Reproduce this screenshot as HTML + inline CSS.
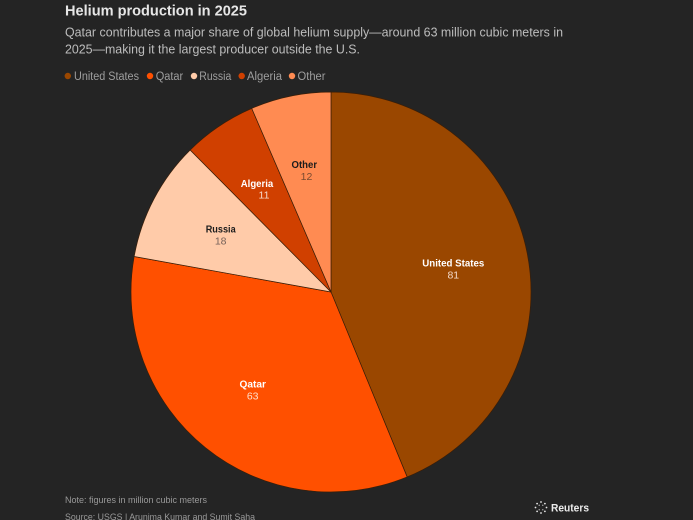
<!DOCTYPE html>
<html>
<head>
<meta charset="utf-8">
<style>
  html, body { margin: 0; padding: 0; background: #242424; }
  body { width: 693px; height: 520px; overflow: hidden; }
  svg { display: block; }
  text { font-family: "Liberation Sans", Arial, sans-serif; }
</style>
</head>
<body>
<svg width="693" height="520" viewBox="0 0 693 520" xmlns="http://www.w3.org/2000/svg">
  <rect x="0" y="0" width="693" height="520" fill="#242424"/>

  <!-- Title -->
  <text x="65" y="15.7" font-size="15" font-weight="bold" fill="#e6e6e6" textLength="182" lengthAdjust="spacingAndGlyphs">Helium production in 2025</text>
  <text x="65" y="36.7" font-size="13" fill="#bdbdbd" textLength="498" lengthAdjust="spacingAndGlyphs">Qatar contributes a major share of global helium supply—around 63 million cubic meters in</text>
  <text x="65" y="53.3" font-size="13" fill="#bdbdbd" textLength="295" lengthAdjust="spacingAndGlyphs">2025—making it the largest producer outside the U.S.</text>

  <!-- Legend -->
  <g font-size="11.5" fill="#9e9e9e">
    <circle cx="67.8" cy="76" r="3.2" fill="#9a4700"/>
    <text x="74" y="80" textLength="65" lengthAdjust="spacingAndGlyphs">United States</text>
    <circle cx="150" cy="76" r="3.2" fill="#ff5000"/>
    <text x="155.7" y="80" textLength="27.5" lengthAdjust="spacingAndGlyphs">Qatar</text>
    <circle cx="194" cy="76" r="3.2" fill="#ffcba9"/>
    <text x="199.3" y="80" textLength="32" lengthAdjust="spacingAndGlyphs">Russia</text>
    <circle cx="241.7" cy="76" r="3.2" fill="#d04000"/>
    <text x="247" y="80" textLength="35" lengthAdjust="spacingAndGlyphs">Algeria</text>
    <circle cx="292" cy="76" r="3.2" fill="#ff8b52"/>
    <text x="297.5" y="80" textLength="28" lengthAdjust="spacingAndGlyphs">Other</text>
  </g>

  <!-- Pie -->
  <g stroke="#3a1e08" stroke-width="0.7" stroke-linejoin="round">
    <path d="M331,292 L331,92 A200,200 0 0 1 407.14,476.94 Z" fill="#9a4700"/>
    <path d="M331,292 L407.14,476.94 A200,200 0 0 1 134.17,256.53 Z" fill="#ff5000"/>
    <path d="M331,292 L134.17,256.53 A200,200 0 0 1 190.18,149.98 Z" fill="#ffcba9"/>
    <path d="M331,292 L190.18,149.98 A200,200 0 0 1 251.73,108.38 Z" fill="#d04000"/>
    <path d="M331,292 L251.73,108.38 A200,200 0 0 1 331,92 Z" fill="#ff8b52"/>
  </g>

  <!-- Slice labels -->
  <g text-anchor="middle" font-size="10.5">
    <text x="453.3" y="266.7" font-weight="bold" fill="#ffffff" textLength="62" lengthAdjust="spacingAndGlyphs">United States</text>
    <text x="453.3" y="278.5" fill="#f3d9c8">81</text>

    <text x="252.7" y="387.7" font-weight="bold" fill="#ffffff" textLength="26.5" lengthAdjust="spacingAndGlyphs">Qatar</text>
    <text x="252.7" y="399.7" fill="#ffe0cc">63</text>

    <text x="220.7" y="232.3" font-weight="bold" fill="#1c1c1c" textLength="30" lengthAdjust="spacingAndGlyphs">Russia</text>
    <text x="220.7" y="244.3" fill="#77625a">18</text>

    <text x="257" y="187" font-weight="bold" fill="#ffffff" textLength="32.5" lengthAdjust="spacingAndGlyphs">Algeria</text>
    <text x="264" y="198.7" fill="#f5d8c8">11</text>

    <text x="304.3" y="168" font-weight="bold" fill="#1c1c1c" textLength="25.5" lengthAdjust="spacingAndGlyphs">Other</text>
    <text x="306.5" y="180" fill="#7a4a30">12</text>
  </g>

  <!-- Footer -->
  <text x="65" y="503" font-size="9.5" fill="#999999" textLength="142" lengthAdjust="spacingAndGlyphs">Note: figures in million cubic meters</text>
  <text x="65" y="520" font-size="9.5" fill="#999999" textLength="190" lengthAdjust="spacingAndGlyphs">Source: USGS | Arunima Kumar and Sumit Saha</text>

  <!-- Reuters logo -->
  <g fill="#e6e6e6">
    <circle cx="535.5" cy="507.5" r="0.9"/>
    <circle cx="537.1" cy="503.6" r="0.9"/>
    <circle cx="541" cy="502" r="0.9"/>
    <circle cx="544.9" cy="503.6" r="0.9"/>
    <circle cx="546.5" cy="507.5" r="0.9"/>
    <circle cx="544.9" cy="511.4" r="0.9"/>
    <circle cx="541" cy="513" r="0.9"/>
    <circle cx="537.1" cy="511.4" r="0.9"/>
    <circle cx="539.2" cy="505.2" r="0.6"/>
    <circle cx="542.8" cy="505.2" r="0.6"/>
    <circle cx="539.2" cy="509.8" r="0.6"/>
    <circle cx="542.8" cy="509.8" r="0.6"/>
  </g>
  <text x="551" y="511.5" font-size="11" font-weight="bold" fill="#ececec" textLength="38" lengthAdjust="spacingAndGlyphs">Reuters</text>
</svg>
</body>
</html>
